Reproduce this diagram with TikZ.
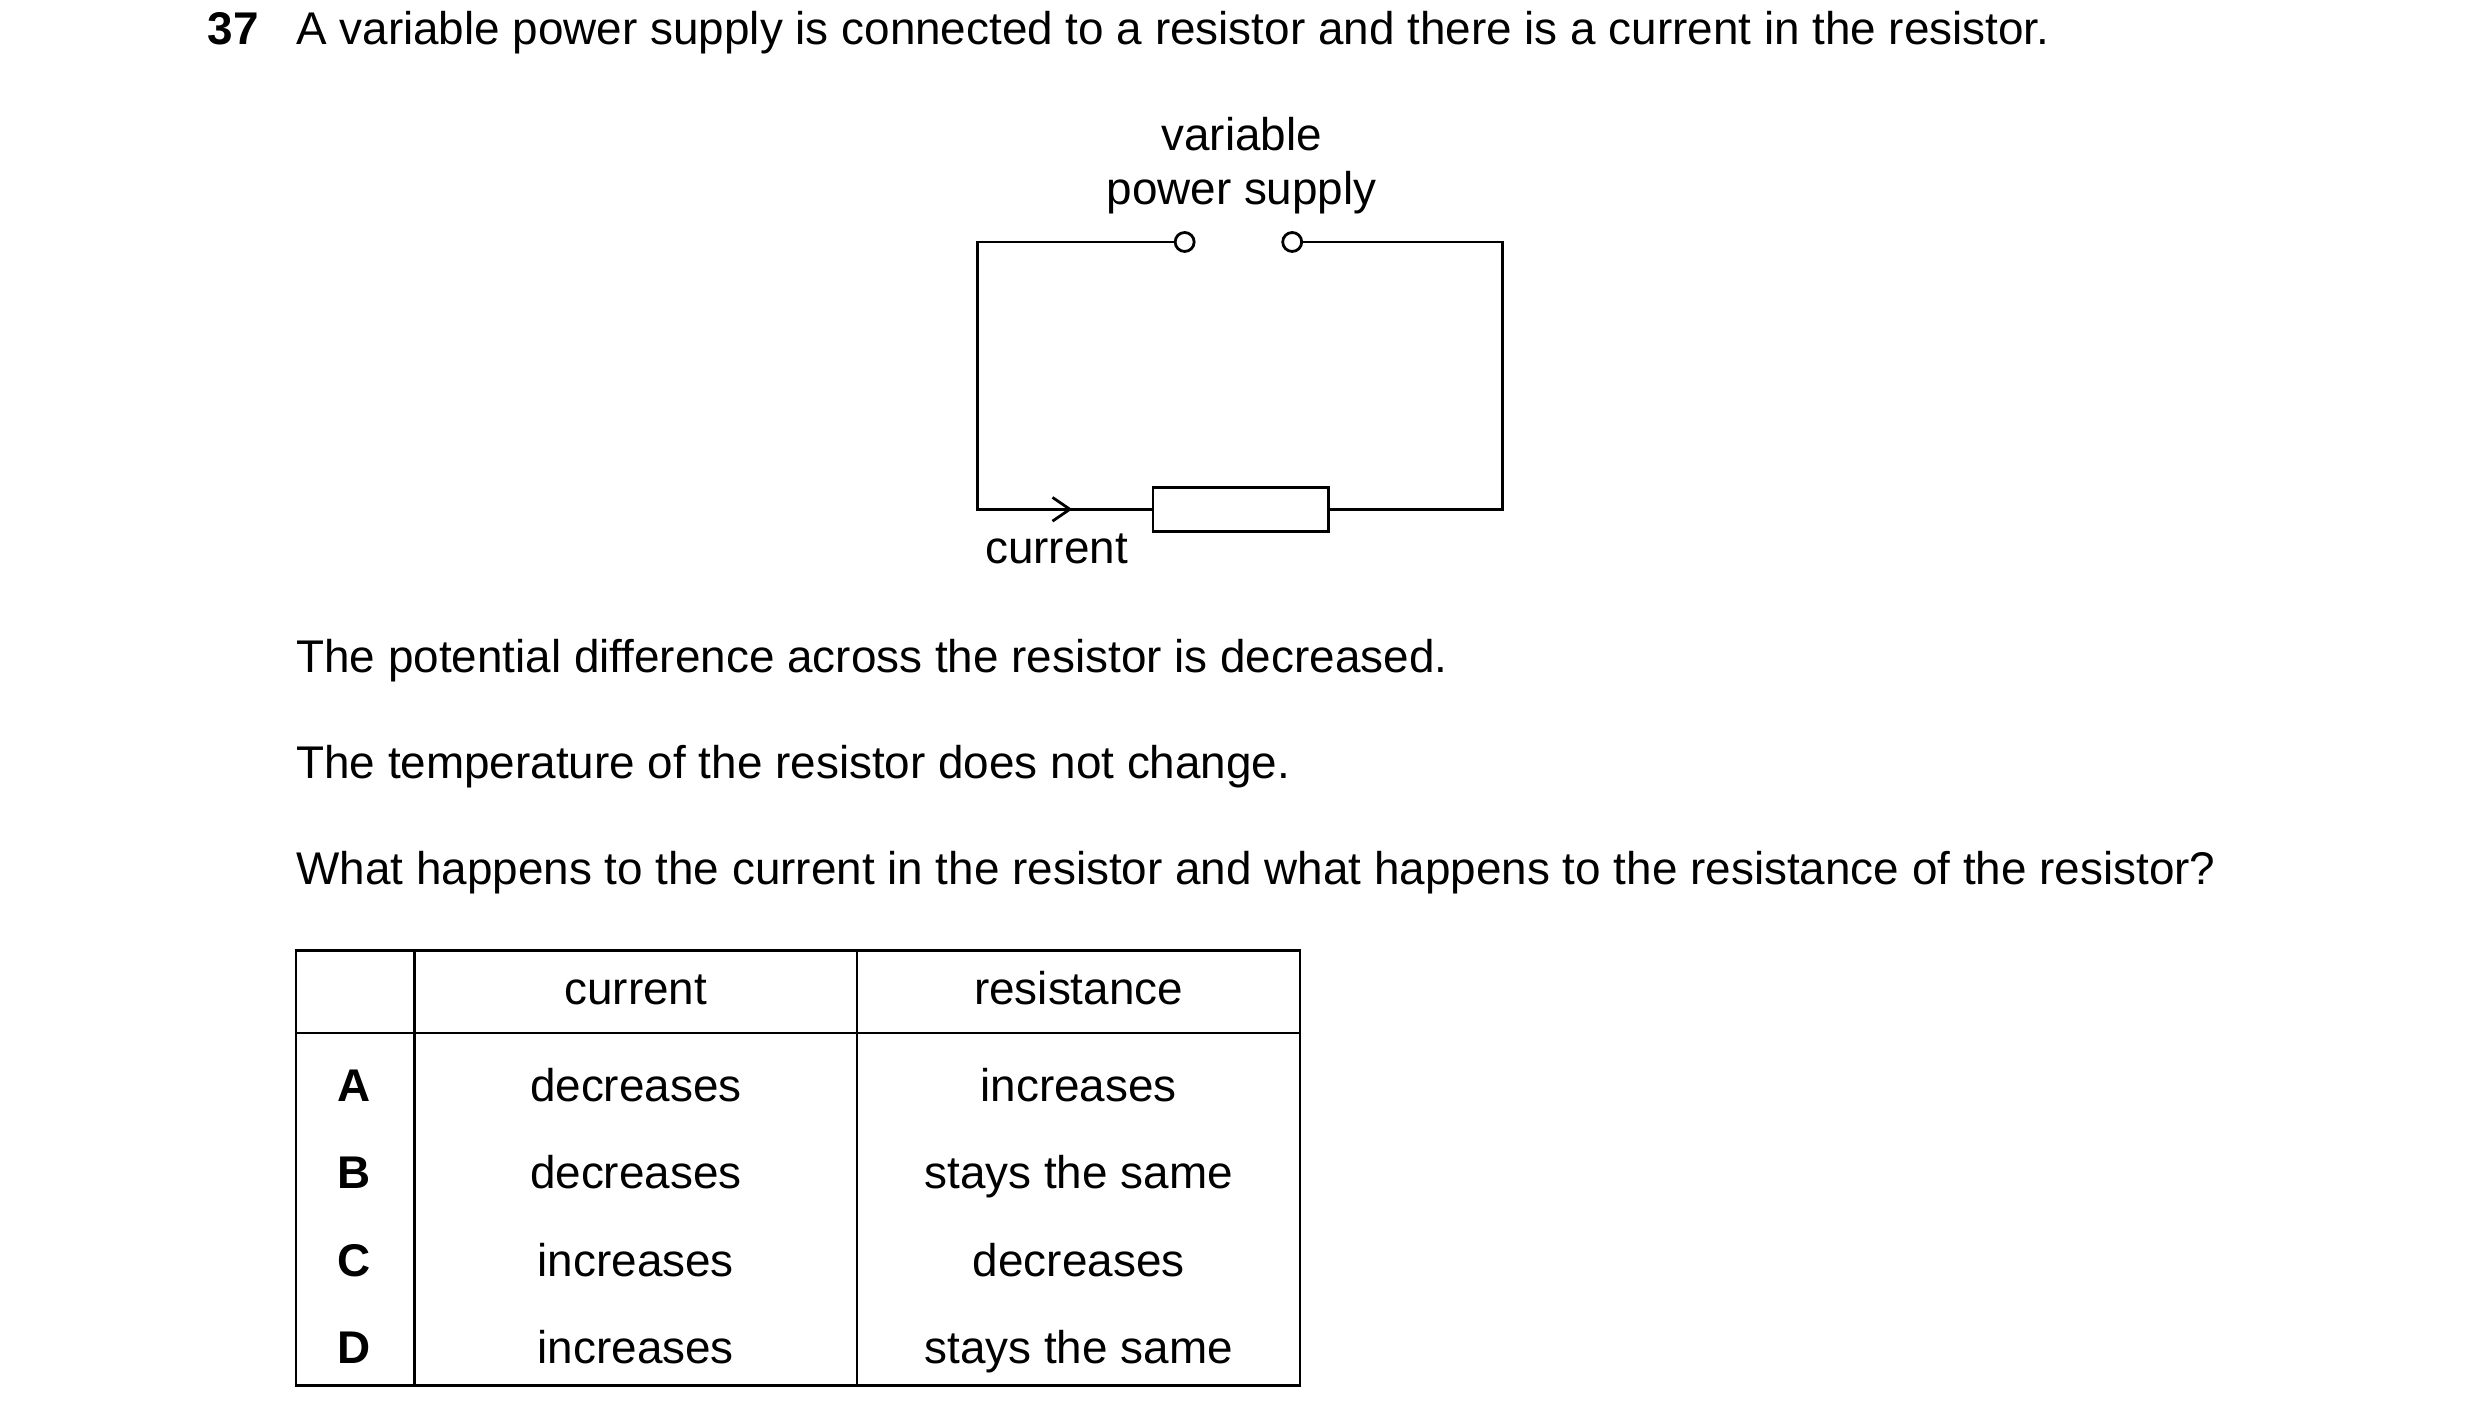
\documentclass[tikz,border=0pt]{standalone}
\usepackage{fontspec}
\setmainfont{Liberation Sans}
\usetikzlibrary{positioning,arrows.meta}
\tikzset{
  txt/.style={inner sep=0pt, font=\fontsize{16.5}{20}\selectfont},
  term/.style={circle, draw, line width=1pt, minimum size=0.24cm, inner sep=0pt},
  wire/.style={line width=1pt},
}
\begin{document}
\begin{tikzpicture}[x=0.02cm, y=-0.02cm]
\useasboundingbox (0,0) rectangle (1568,901);
%Question
\node[txt, anchor=base west] (num) at (131,28) {\textbf{37}};
\node[txt, anchor=base west] (q) at (187,28) {A variable power supply is connected to a resistor and there is a current in the resistor.};
%Circuit
\node[txt, anchor=base] (ps1) at (785,95) {variable};
\node[txt, anchor=base] (ps2) at (785,129) {power supply};
\node[term] (tl) at (749,153) {};
\node[term] (tr) at (817,153) {};
\node[draw, line width=1pt, minimum width=2.22cm, minimum height=0.56cm, inner sep=0pt] (res) at (784.5,322) {};
\coordinate (c1) at (618,153);
\coordinate (c2) at (618,322);
\coordinate (c3) at (950,153);
\coordinate (c4) at (950,322);
\coordinate (arr) at (678,322);
\draw[wire] (tl) -- (c1) -- (c2) -- (arr) -- (res);
\draw[wire, -{Straight Barb[length=2.2mm, width=3mm]}] (c2) -- (arr);
\draw[wire] (tr) -- (c3) -- (c4) -- (res);
\node[txt, anchor=base] (cur) at (668,356) {current};
%Text
\node[txt, anchor=base west] (t1) at (187,425) {The potential difference across the resistor is decreased.};
\node[txt, anchor=base west] (t2) at (187,492) {The temperature of the resistor does not change.};
\node[txt, anchor=base west] (t3) at (187,559) {What happens to the current in the resistor and what happens to the resistance of the resistor?};
%Table
\draw[line width=0.8pt] (187,601) rectangle (822,876);
\draw[line width=0.8pt] (187,653) -- (822,653);
\draw[line width=0.8pt] (262,601) -- (262,876);
\draw[line width=0.8pt] (542,601) -- (542,876);
\node[txt, anchor=base] (h1) at (402,635) {current};
\node[txt, anchor=base] (h2) at (682,635) {resistance};
\foreach \l/\a/\b [count=\i] in {A/decreases/increases, B/decreases/stays the same, C/increases/decreases, D/increases/stays the same}{
  \node[txt, anchor=base] (l\i) at (224,{641+55.3*\i}) {\textbf{\l}};
  \node[txt, anchor=base] (a\i) at (402,{641+55.3*\i}) {\a};
  \node[txt, anchor=base] (b\i) at (682,{641+55.3*\i}) {\b};
}
\end{tikzpicture}
\end{document}
